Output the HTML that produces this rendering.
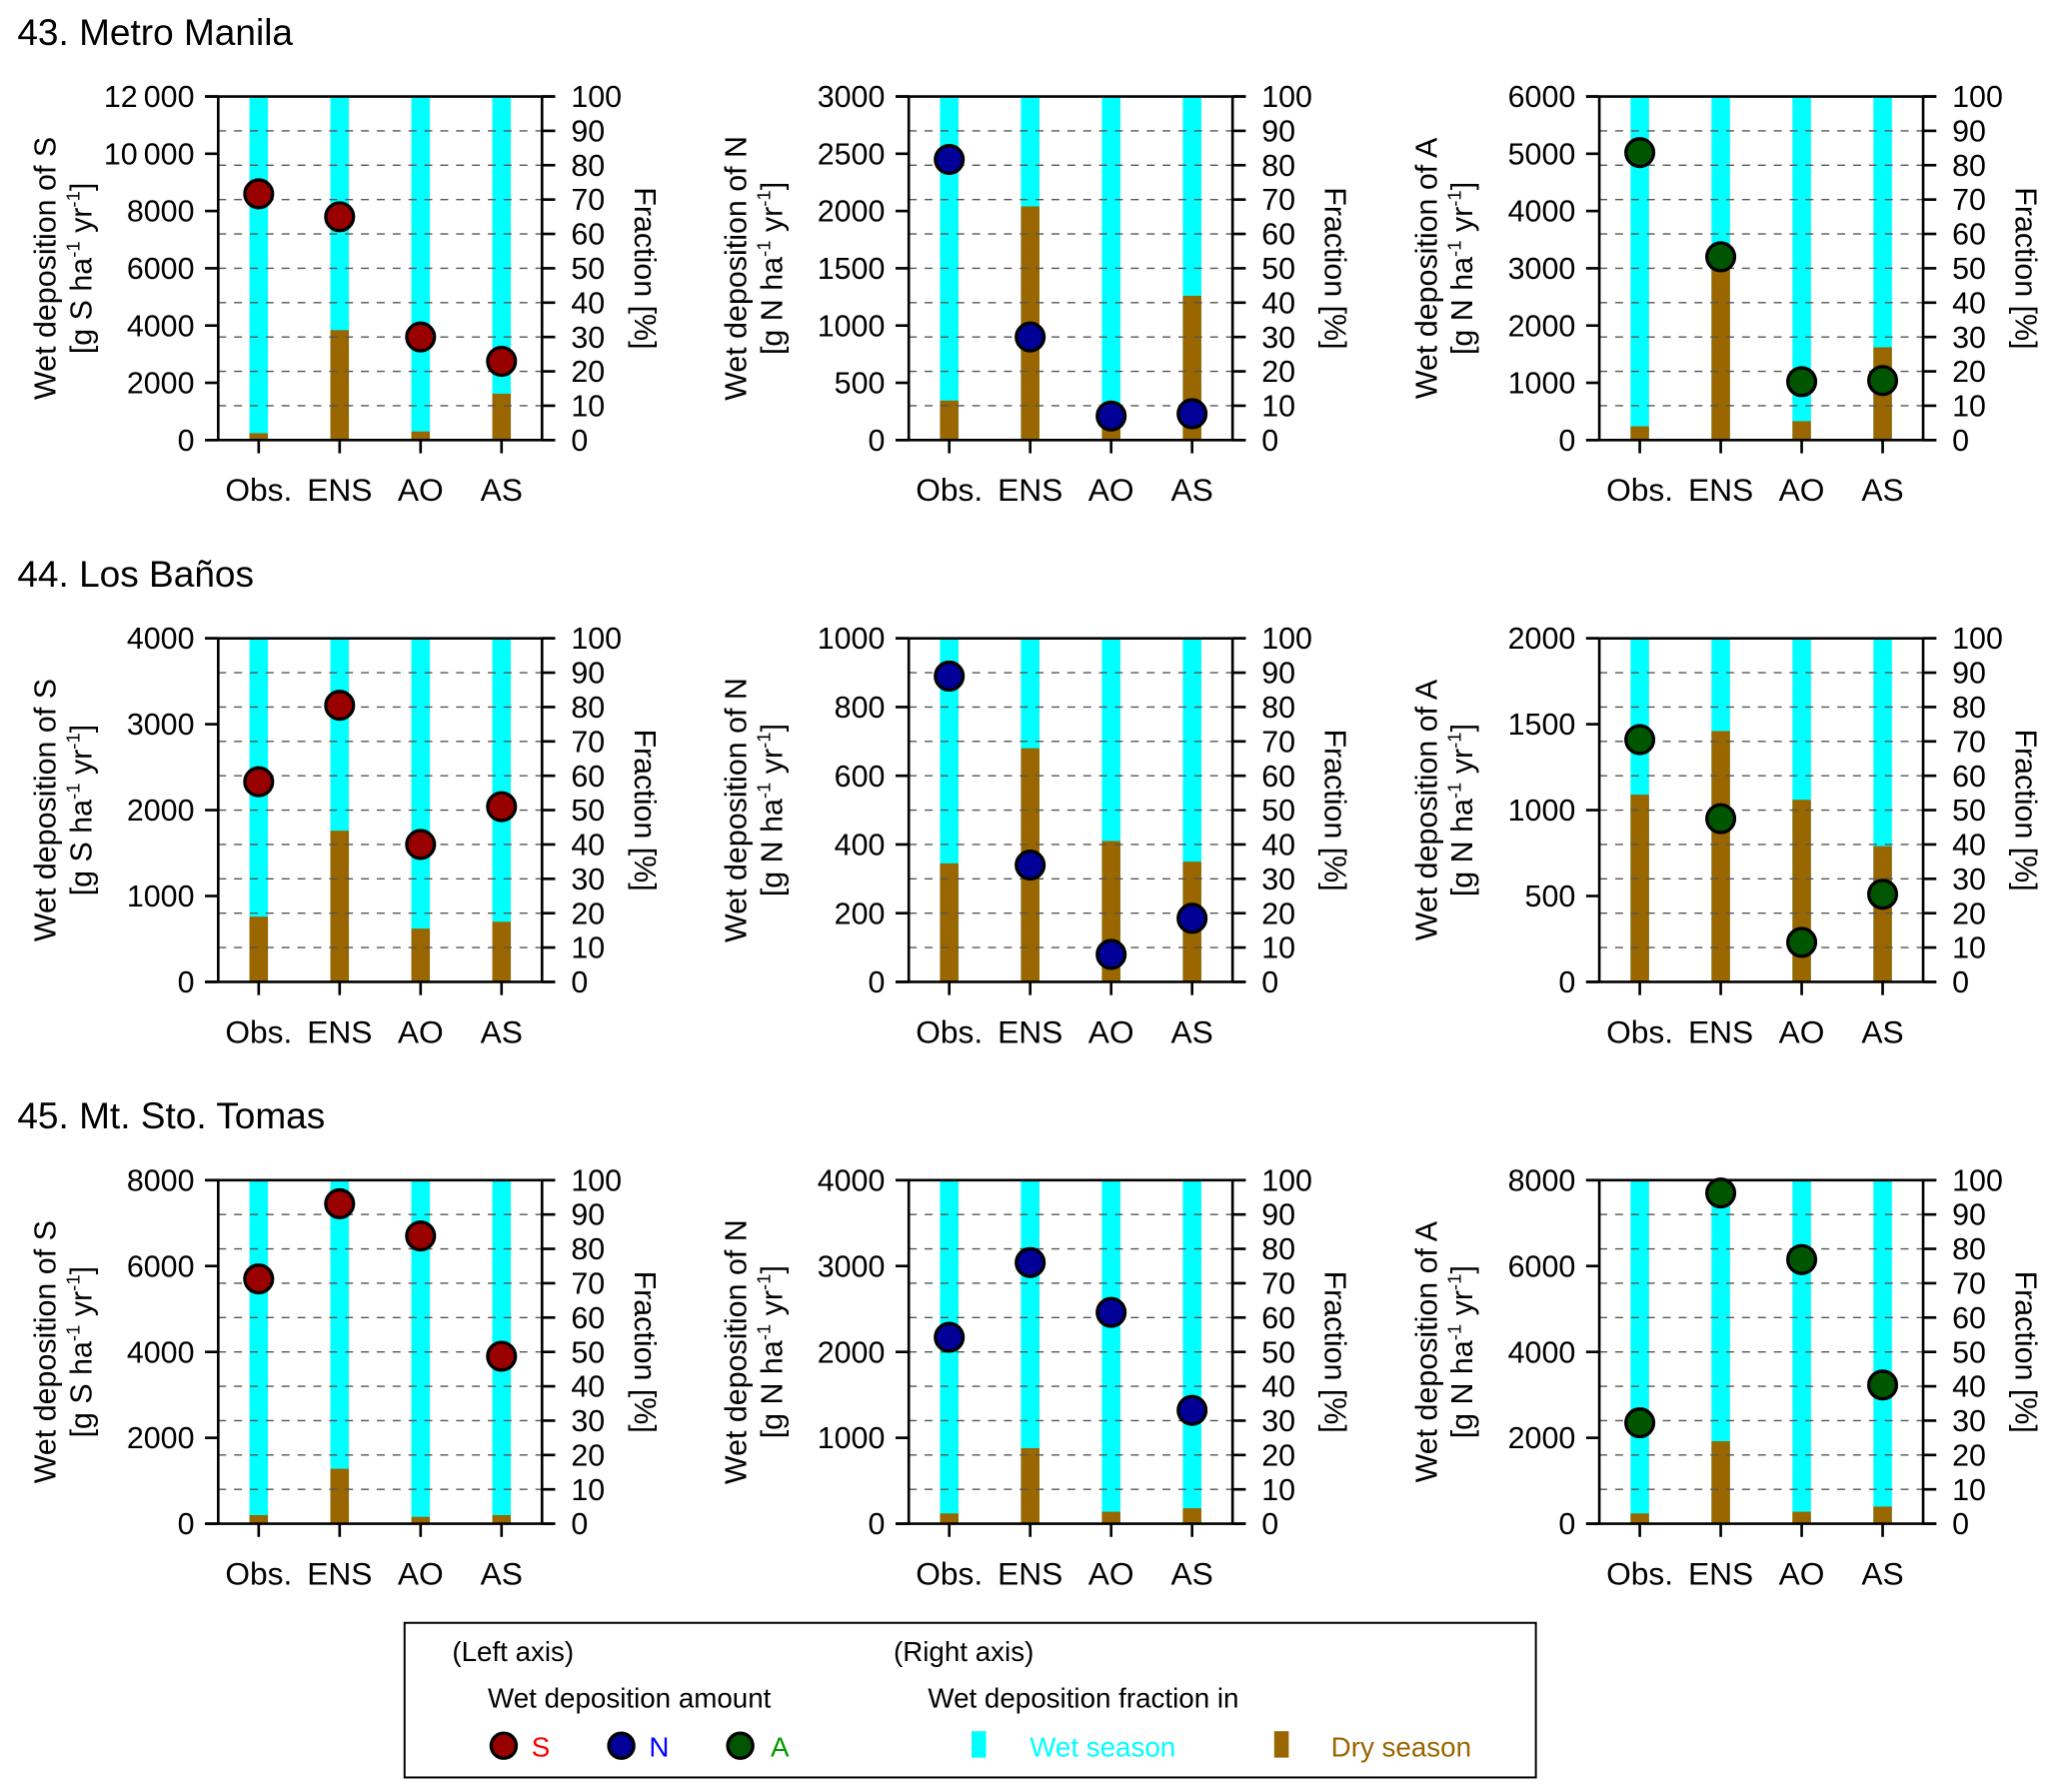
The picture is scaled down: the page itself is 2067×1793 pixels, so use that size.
<!DOCTYPE html>
<html><head><meta charset="utf-8"><style>body{margin:0;background:#fff}svg{display:block;font-family:"Liberation Sans",sans-serif}</style></head>
<body>
<svg id="c" width="2067" height="1793" viewBox="0 0 1563 1356" xmlns="http://www.w3.org/2000/svg"></svg>
<script>
const categories=["Obs.","ENS","AO","AS"];
const siteTitles=["43. Metro Manila","44. Los Baños","45. Mt. Sto. Tomas"];
const species=["S","N","A"];
const yMax=[[12000,3000,6000],[4000,1000,2000],[8000,4000,8000]];
const yStep=[[2000,500,1000],[1000,200,500],[2000,1000,2000]];
const depMetro=[[8600,7800,3600,2750],[2450,900,210,230],[5020,3200,1020,1040]];
const dryMetro=[[2,32,2.5,13.5],[11.5,68,4,42],[4,52.5,5.5,27]];
const depLosBanos=[[2330,3220,1600,2040],[890,340,80,185],[1410,950,230,510]];
const dryLosBanos=[[19,44,15.5,17.5],[34.5,68,41,35],[54.5,73,53,39.5]];
const depTomas=[[5700,7450,6700,3900],[2170,3040,2460,1320],[2350,7700,6150,3230]];
const dryTomas=[[2.5,16,2,2.5],[3,22,3.5,4.5],[3,24,3.5,5]];
const fracTicks=[0,10,20,30,40,50,60,70,80,90,100];

const dep=[depMetro,depLosBanos,depTomas];
const dry=[dryMetro,dryLosBanos,dryTomas];
const markerColor={S:"#990000",N:"#000099",A:"#005500"};
const NS="http://www.w3.org/2000/svg";
const svg=document.getElementById('c');
function mk(tag,attrs,parent,text){const e=document.createElementNS(NS,tag);for(const k in attrs)e.setAttribute(k,attrs[k]);if(text!==undefined)e.textContent=text;(parent||svg).appendChild(e);return e;}
function fmt(v){return v>=10000?String(v).replace(/(\d+)(\d{3})$/,"$1\u2009$2"):String(v);}

for(let r=0;r<3;r++){
  const top=73+r*410,bot=top+260;
  const t=mk('text',{x:13,y:34+r*410,'font-size':28},svg,siteTitles[r]);
  
  
  for(let c=0;c<3;c++){
    const L=165+c*522.5,R=L+245;
    const g=mk('g',{});
    
    
    const xs=i=>L+(i+0.5)/4*(R-L);
    const yL=v=>bot-v/yMax[r][c]*(bot-top);
    const yF=v=>bot-v/100*(bot-top);
    for(let i=0;i<4;i++){
      const x=xs(i)-7;
      const wb=mk('rect',{x:x,y:top,width:14,height:bot-top,fill:'#00ffff'},g);
      
      
      const d=dry[r][c][i];
      const db=mk('rect',{x:x,y:yF(d),width:14,height:bot-yF(d),fill:'#996600'},g);
      
      
    }
    for(const f of fracTicks){
      const y=yF(f);
      if(f>0&&f<100)mk('line',{x1:L,x2:R,y1:y,y2:y,stroke:'#555','stroke-width':1,'stroke-dasharray':'6,6'},g);
      mk('line',{x1:R,x2:R+10,y1:y,y2:y,stroke:'#000','stroke-width':2},g);
      const tl=mk('text',{x:R+22,y:y+8,'font-size':23},g,String(f));
      
      
    }
    for(let v=0;v<=yMax[r][c];v+=yStep[r][c]){
      const y=yL(v);
      mk('line',{x1:L-10,x2:L,y1:y,y2:y,stroke:'#000','stroke-width':2},g);
      const tl=mk('text',{x:L-18,y:y+8,'font-size':23,'text-anchor':'end'},g,fmt(v));
      
      
    }
    mk('line',{x1:L-10,x2:R+10,y1:top,y2:top,stroke:'#000','stroke-width':2},g);
    mk('line',{x1:L-10,x2:R+10,y1:bot,y2:bot,stroke:'#000','stroke-width':2},g);
    mk('line',{x1:L,x2:L,y1:top,y2:bot,stroke:'#000','stroke-width':2},g);
    mk('line',{x1:R,x2:R,y1:top,y2:bot,stroke:'#000','stroke-width':2},g);
    for(let i=0;i<4;i++){
      mk('line',{x1:xs(i),x2:xs(i),y1:bot,y2:bot+10,stroke:'#000','stroke-width':2},g);
      const xl=mk('text',{x:xs(i),y:bot+46,'font-size':24,'text-anchor':'middle'},g,categories[i]);
      
      
    }
    for(let i=0;i<4;i++){
      const p=mk('circle',{cx:xs(i),cy:yL(dep[r][c][i]),r:10.5,fill:markerColor[species[c]],stroke:'#000','stroke-width':2.5},g);
      
      
    }
    const cy=(top+bot)/2;
    const y1=mk('text',{x:0,y:0,'font-size':23,'text-anchor':'middle',transform:`translate(${L-123},${cy}) rotate(-90)`},g,'Wet deposition of '+species[c]);
    
    
    const y2=mk('text',{x:0,y:0,'font-size':23,'text-anchor':'middle',transform:`translate(${L-96},${cy}) rotate(-90)`},g);
    
    
    y2.innerHTML=`[g ${species[c]==='S'?'S':'N'} ha<tspan dy="-9" font-size="14">-1</tspan><tspan dy="9"> yr</tspan><tspan dy="-9" font-size="14">-1</tspan><tspan dy="9">]</tspan>`;
    const fr=mk('text',{x:0,y:0,'font-size':23,'text-anchor':'middle',transform:`translate(${R+70},${cy}) rotate(90)`},g,'Fraction [%]');
    
    
  }
}
const lg=mk('g',{});


mk('rect',{x:306,y:1228,width:856,height:117,fill:'none',stroke:'#000','stroke-width':1.5},lg);
const lt=[["(Left axis)",342,1257,'#000'],["(Right axis)",676,1257,'#000'],["Wet deposition amount",369,1292,'#000'],["Wet deposition fraction in",702,1292,'#000'],["S",402,1329,'#ff0000'],["N",491,1329,'#0000ff'],["A",583,1329,'#009900'],["Wet season",779,1329,'#00ffff'],["Dry season",1007,1329,'#996600']];
for(const [s,x,y,col] of lt){
  const e=mk('text',{x:x,y:y,'font-size':21,fill:col},lg,s);
  
  
}
[["S",381],["N",470],["A",560]].forEach(([s,x])=>{
  const e=mk('circle',{cx:x,cy:1321,r:9.5,fill:markerColor[s],stroke:'#000','stroke-width':2.5},lg);
  
  
});
const w=mk('rect',{x:735,y:1310,width:11,height:20,fill:'#00ffff'},lg);


const d=mk('rect',{x:964,y:1310,width:11,height:20,fill:'#996600'},lg);


</script>
</body></html>
